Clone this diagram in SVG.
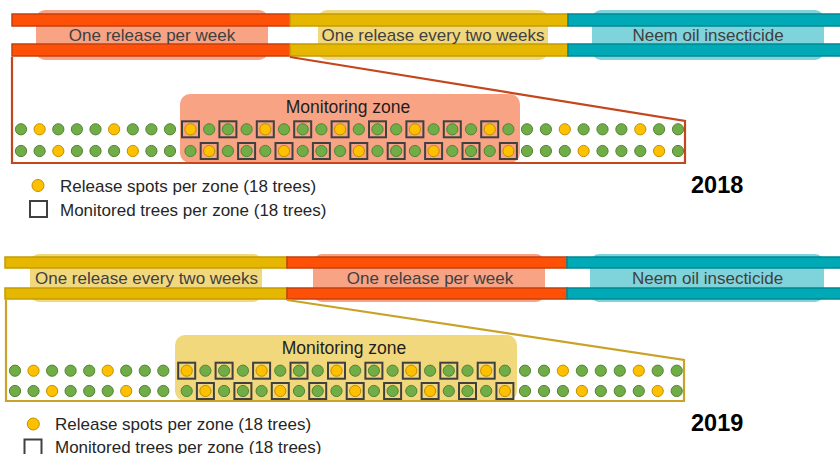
<svg xmlns="http://www.w3.org/2000/svg" xmlns:xlink="http://www.w3.org/1999/xlink" width="840" height="454" viewBox="0 0 840 454">
<style>
text{font-family:"Liberation Sans",Arial,sans-serif;}
.lbl{font-size:17px;fill:#404040;text-anchor:middle;}
.mz{font-size:17.5px;fill:#1e1e1e;text-anchor:middle;}
.leg{font-size:17px;fill:#262626;}
.yr{font-size:23.5px;font-weight:bold;fill:#000;}
.barR{fill:#FF5008;stroke:#C4400C;stroke-width:1.5;}
.barY{fill:#E5B700;stroke:#C49C00;stroke-width:1.5;}
.barT{fill:#00A9B6;stroke:#008893;stroke-width:1.5;}
.boxR{fill:#F9A385;}
.boxY{fill:#F2D87C;}
.boxT{fill:#7FD4DC;}
.gr{fill:#70AD47;stroke:#548235;stroke-width:1;}
.ye{fill:#FFC000;stroke:#C09000;stroke-width:1;}
.sq{fill:none;stroke:#404040;stroke-width:2;}
.frR{fill:none;stroke:#C4461C;stroke-width:2.2;}
.frY{fill:none;stroke:#C9A227;stroke-width:2.2;}
</style>
<defs>
<circle id="g" r="5.6" class="gr"/>
<circle id="y" r="5.6" class="ye"/>
<rect id="b" x="-8.5" y="-8" width="17" height="16" class="sq"/>
</defs>

<!-- ===== 2018 ===== -->
<g id="p2018-weekly">
<rect class="boxR" x="36" y="10" width="232" height="50" rx="9"/>
<rect class="barR" x="12" y="14" width="278" height="12"/>
<rect class="barR" x="12" y="44" width="278" height="12"/>
<text class="lbl" x="152" y="41">One release per week</text>
</g>
<g id="p2018-biweekly">
<rect class="boxY" x="318" y="10" width="230" height="50" rx="9"/>
<rect class="barY" x="290" y="14" width="278" height="12"/>
<rect class="barY" x="290" y="44" width="278" height="12"/>
<text class="lbl" x="433" y="41">One release every two weeks</text>
</g>
<g id="p2018-neem">
<rect class="boxT" x="592" y="10" width="232" height="50" rx="9"/>
<rect class="barT" x="568" y="14" width="274" height="12"/>
<rect class="barT" x="568" y="44" width="274" height="12"/>
<text class="lbl" x="708" y="41">Neem oil insecticide</text>
</g>
<g id="p2018-zone">
<rect class="boxR" x="180" y="94" width="340" height="69" rx="10"/>
<text class="mz" x="348" y="113">Monitoring zone</text>
</g>
<g id="p2018-connectors">
<path class="frR" d="M290,57 L685,121 L685,163 L12,163 L12,57"/>
</g>
<g id="p2018-row1" transform="translate(0,129.3)">
<use href="#g" x="21"/><use href="#y" x="39.6"/><use href="#g" x="58.3"/><use href="#g" x="76.9"/><use href="#g" x="95.5"/><use href="#y" x="114.1"/><use href="#g" x="132.8"/><use href="#g" x="151.4"/><use href="#g" x="170"/>
<use href="#y" x="190.5"/><use href="#b" x="190.5"/><use href="#g" x="209.2"/><use href="#g" x="227.9"/><use href="#b" x="227.9"/><use href="#g" x="246.6"/><use href="#y" x="265.3"/><use href="#b" x="265.3"/><use href="#g" x="284"/><use href="#g" x="302.7"/><use href="#b" x="302.7"/><use href="#g" x="321.4"/><use href="#y" x="340.1"/><use href="#b" x="340.1"/><use href="#g" x="358.8"/><use href="#g" x="377.5"/><use href="#b" x="377.5"/><use href="#g" x="396.2"/><use href="#y" x="414.9"/><use href="#b" x="414.9"/><use href="#g" x="433.6"/><use href="#g" x="452.3"/><use href="#b" x="452.3"/><use href="#g" x="471"/><use href="#y" x="489.7"/><use href="#b" x="489.7"/><use href="#g" x="508.4"/>
<use href="#g" x="527"/><use href="#g" x="545.9"/><use href="#y" x="564.8"/><use href="#g" x="583.6"/><use href="#g" x="602.5"/><use href="#g" x="621.4"/><use href="#y" x="640.3"/><use href="#g" x="659.1"/><use href="#g" x="678"/>
</g>
<g id="p2018-row2" transform="translate(0,151)">
<use href="#g" x="21"/><use href="#g" x="39.6"/><use href="#y" x="58.3"/><use href="#g" x="76.9"/><use href="#g" x="95.5"/><use href="#g" x="114.1"/><use href="#y" x="132.8"/><use href="#g" x="151.4"/><use href="#g" x="170"/>
<use href="#g" x="190.5"/><use href="#y" x="209.2"/><use href="#b" x="209.2"/><use href="#g" x="227.9"/><use href="#g" x="246.6"/><use href="#b" x="246.6"/><use href="#g" x="265.3"/><use href="#y" x="284"/><use href="#b" x="284"/><use href="#g" x="302.7"/><use href="#g" x="321.4"/><use href="#b" x="321.4"/><use href="#g" x="340.1"/><use href="#y" x="358.8"/><use href="#b" x="358.8"/><use href="#g" x="377.5"/><use href="#g" x="396.2"/><use href="#b" x="396.2"/><use href="#g" x="414.9"/><use href="#y" x="433.6"/><use href="#b" x="433.6"/><use href="#g" x="452.3"/><use href="#g" x="471"/><use href="#b" x="471"/><use href="#g" x="489.7"/><use href="#y" x="508.4"/><use href="#b" x="508.4"/>
<use href="#g" x="527"/><use href="#g" x="545.9"/><use href="#g" x="564.8"/><use href="#y" x="583.6"/><use href="#g" x="602.5"/><use href="#g" x="621.4"/><use href="#g" x="640.3"/><use href="#y" x="659.1"/><use href="#g" x="678"/>
</g>
<g id="p2018-legend">
<circle class="ye" cx="38" cy="185.5" r="6"/>
<text class="leg" x="60" y="192">Release spots per zone (18 trees)</text>
<rect class="sq" x="30" y="201" width="17" height="16"/>
<text class="leg" x="60" y="216">Monitored trees per zone (18 trees)</text>
<text class="yr" x="691" y="193">2018</text>
</g>

<!-- ===== 2019 ===== -->
<g id="p2019-biweekly">
<rect class="boxY" x="30" y="254" width="232" height="48" rx="9"/>
<rect class="barY" x="5" y="257" width="282" height="11"/>
<rect class="barY" x="5" y="288" width="282" height="11"/>
<text class="lbl" x="146.5" y="284">One release every two weeks</text>
</g>
<g id="p2019-weekly">
<rect class="boxR" x="313" y="254" width="232" height="48" rx="9"/>
<rect class="barR" x="287" y="257" width="280" height="11"/>
<rect class="barR" x="287" y="288" width="280" height="11"/>
<text class="lbl" x="430" y="284">One release per week</text>
</g>
<g id="p2019-neem">
<rect class="boxT" x="590" y="254" width="234" height="48" rx="9"/>
<rect class="barT" x="567" y="257" width="275" height="11"/>
<rect class="barT" x="567" y="288" width="275" height="11"/>
<text class="lbl" x="707.5" y="284">Neem oil insecticide</text>
</g>
<g id="p2019-zone">
<rect class="boxY" x="175" y="335" width="342" height="66" rx="10"/>
<text class="mz" x="344" y="354">Monitoring zone</text>
</g>
<g id="p2019-connectors">
<path class="frY" d="M287,300 L684,360 L684,401 L6,401 L6,300"/>
</g>
<g id="p2019-row1" transform="translate(0,370.7)">
<use href="#g" x="15"/><use href="#y" x="33.5"/><use href="#g" x="52.1"/><use href="#g" x="70.6"/><use href="#g" x="89.2"/><use href="#y" x="107.7"/><use href="#g" x="126.2"/><use href="#g" x="144.8"/><use href="#g" x="163.3"/>
<use href="#y" x="186.7"/><use href="#b" x="186.7"/><use href="#g" x="205.4"/><use href="#g" x="224.1"/><use href="#b" x="224.1"/><use href="#g" x="242.9"/><use href="#y" x="261.6"/><use href="#b" x="261.6"/><use href="#g" x="280.3"/><use href="#g" x="299"/><use href="#b" x="299"/><use href="#g" x="317.7"/><use href="#y" x="336.5"/><use href="#b" x="336.5"/><use href="#g" x="355.2"/><use href="#g" x="373.9"/><use href="#b" x="373.9"/><use href="#g" x="392.6"/><use href="#y" x="411.3"/><use href="#b" x="411.3"/><use href="#g" x="430.1"/><use href="#g" x="448.8"/><use href="#b" x="448.8"/><use href="#g" x="467.5"/><use href="#y" x="486.2"/><use href="#b" x="486.2"/><use href="#g" x="504.9"/>
<use href="#g" x="525"/><use href="#g" x="544"/><use href="#y" x="562.9"/><use href="#g" x="581.9"/><use href="#g" x="600.8"/><use href="#g" x="619.8"/><use href="#y" x="638.8"/><use href="#g" x="657.7"/><use href="#g" x="676.7"/>
</g>
<g id="p2019-row2" transform="translate(0,391)">
<use href="#g" x="15"/><use href="#g" x="33.5"/><use href="#y" x="52.1"/><use href="#g" x="70.6"/><use href="#g" x="89.2"/><use href="#g" x="107.7"/><use href="#y" x="126.2"/><use href="#g" x="144.8"/><use href="#g" x="163.3"/>
<use href="#g" x="186.7"/><use href="#y" x="205.4"/><use href="#b" x="205.4"/><use href="#g" x="224.1"/><use href="#g" x="242.9"/><use href="#b" x="242.9"/><use href="#g" x="261.6"/><use href="#y" x="280.3"/><use href="#b" x="280.3"/><use href="#g" x="299"/><use href="#g" x="317.7"/><use href="#b" x="317.7"/><use href="#g" x="336.5"/><use href="#y" x="355.2"/><use href="#b" x="355.2"/><use href="#g" x="373.9"/><use href="#g" x="392.6"/><use href="#b" x="392.6"/><use href="#g" x="411.3"/><use href="#y" x="430.1"/><use href="#b" x="430.1"/><use href="#g" x="448.8"/><use href="#g" x="467.5"/><use href="#b" x="467.5"/><use href="#g" x="486.2"/><use href="#y" x="504.9"/><use href="#b" x="504.9"/>
<use href="#g" x="525"/><use href="#g" x="544"/><use href="#g" x="562.9"/><use href="#y" x="581.9"/><use href="#g" x="600.8"/><use href="#g" x="619.8"/><use href="#g" x="638.8"/><use href="#y" x="657.7"/><use href="#g" x="676.7"/>
</g>
<g id="p2019-legend">
<circle class="ye" cx="33.3" cy="424" r="6"/>
<text class="leg" x="55" y="430">Release spots per zone (18 trees)</text>
<rect class="sq" x="24.5" y="439.5" width="17" height="16"/>
<text class="leg" x="55" y="453">Monitored trees per zone (18 trees)</text>
<text class="yr" x="691" y="431">2019</text>
</g>
</svg>
